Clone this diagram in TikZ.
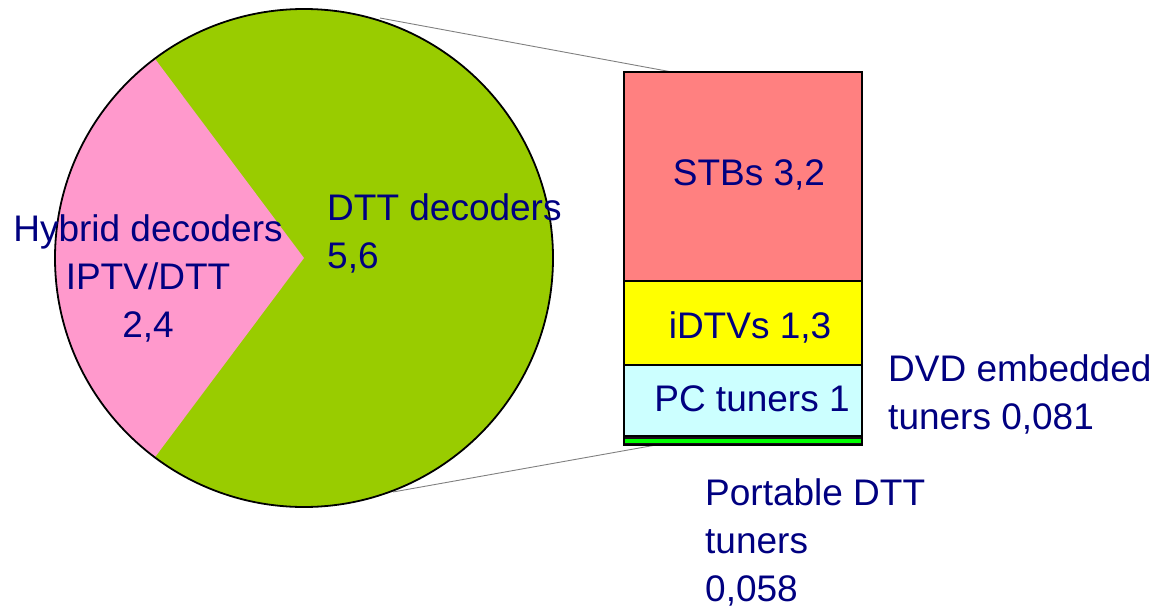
\documentclass[tikz,border=0pt]{standalone}
\usepackage{fontspec}
\setmainfont{Liberation Sans}
\definecolor{txtnavy}{HTML}{000080}
\definecolor{piegreen}{HTML}{99CC00}
\definecolor{piepink}{HTML}{FF99CC}
\definecolor{stbred}{HTML}{FF8080}
\definecolor{idtvyel}{HTML}{FFFF00}
\definecolor{pccyan}{HTML}{CCFFFF}
\definecolor{dvddark}{HTML}{1A0A1A}
\definecolor{portgreen}{HTML}{00FF00}
\tikzset{
  lbl/.style={text=txtnavy, font=\fontsize{37}{48}\selectfont, inner sep=0pt},
  seg/.style={draw=black, line width=1.6pt},
  conn/.style={draw=gray, line width=0.9pt},
}
\begin{document}
\begin{tikzpicture}[x=1pt,y=-1pt]
\useasboundingbox (0,0) rectangle (1158,610);
% connector lines (behind)
\coordinate (pieTop) at (380,18);
\coordinate (barTop) at (672,72);
\coordinate (pieBot) at (393,492);
\coordinate (barBot) at (656,445);
\draw[conn] (pieTop) -- (barTop);
\draw[conn] (pieBot) -- (barBot);
% pie
\coordinate (c) at (304,258);
\fill[piegreen] (c) circle[radius=249];
\fill[piepink] (c) -- ++(126.8:249) arc[start angle=126.8, end angle=233.2, radius=249] -- cycle;
\draw[black, line width=1.8pt] (c) circle[radius=249];
% bar
\draw[seg, fill=stbred] (624,72) rectangle (862,281);
\draw[seg, fill=idtvyel] (624,281) rectangle (862,365);
\draw[seg, fill=pccyan] (624,365) rectangle (862,436);
\fill[dvddark] (624,436) rectangle (862,445);
\fill[portgreen] (624,439.3) rectangle (862,442.6);
\draw[black, line width=1.6pt] (624,436) rectangle (862,445);
% labels
\node[lbl, anchor=north, align=center] (hyb) at (148,214) {Hybrid decoders\\IPTV/DTT\\2,4};
\node[lbl, anchor=north west, align=left] (dtt) at (327,193) {DTT decoders\\5,6};
\node[lbl, anchor=base] (stb) at (749,185) {STBs 3,2};
\node[lbl, anchor=base] (idtv) at (750,338) {iDTVs 1,3};
\node[lbl, anchor=base] (pc) at (752,411) {PC tuners 1};
\node[lbl, anchor=north west, align=left] (dvd) at (888,354) {DVD embedded\\tuners 0,081};
\node[lbl, anchor=north west, align=left] (port) at (705,478) {Portable DTT\\tuners\\0,058};
\end{tikzpicture}
\end{document}
